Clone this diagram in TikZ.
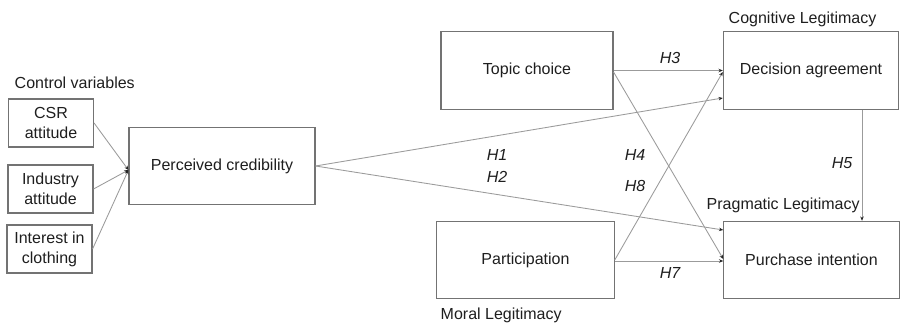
\documentclass[tikz,border=0pt]{standalone}
\usepackage{fontspec}
\setmainfont{Liberation Sans}
\usetikzlibrary{arrows.meta,calc}
\definecolor{boxline}{RGB}{115,115,115}
\definecolor{conn}{RGB}{155,155,155}
\definecolor{txt}{RGB}{30,30,30}
\begin{document}
\begin{tikzpicture}[x=0.75pt,y=-0.75pt,
  every node/.style={font=\fontsize{12}{15}\selectfont, text=txt},
  box/.style={draw=boxline, line width=0.85pt, rectangle, inner sep=0pt, align=center},
  cbox/.style={box, minimum width=63.75pt, minimum height=36pt},
  bigbox/.style={box, minimum height=58pt},
  conn/.style={draw=conn, line width=0.65pt, -{Stealth[length=3.2pt,width=2.6pt,color=black!85]}},
  hlab/.style={font=\fontsize{12}{14}\selectfont\itshape},
  leg/.style={anchor=base west}]
\useasboundingbox (0,0) rectangle (900,322);
% control variables
\node[leg] (cvl) at (10,88) {Control variables};
\node[cbox] (csr) at (51,123) {CSR\\attitude};
\node[cbox] (ind) at (50.5,189) {Industry\\attitude};
\node[cbox] (int) at (49.5,249) {Interest in\\clothing};
% main boxes
\node[bigbox, minimum width=139.5pt] (pc) at (222,166) {Perceived credibility};
\node[bigbox, minimum width=129pt] (tc) at (527,70.5) {Topic choice};
\node[bigbox, minimum width=131.5pt] (da) at (811,70.5) {Decision agreement};
\node[bigbox, minimum width=133pt] (pa) at (525.5,260) {Participation};
\node[bigbox, minimum width=131.5pt] (pi) at (811.5,260) {Purchase intention};
% legitimacy labels
\node[leg] (cog) at (724,23) {Cognitive Legitimacy};
\node[leg] (prag) at (702,209) {Pragmatic Legitimacy};
\node[leg] (mor) at (436,319) {Moral Legitimacy};
% junction
\coordinate (j) at ($(pc.west)+(0,4)$);
\draw[conn] (csr.east) -- (j);
\draw[conn] (ind.east) -- (j);
\draw[conn] (int.east) -- (j);
% paths
\draw[conn] (pc.east) -- ($(da.west)+(0,27.5)$);
\draw[conn] (pc.east) -- ($(pi.west)+(0,-30)$);
\draw[conn] (tc.east) -- (da.west);
\draw[conn] ($(tc.east)+(0,1.5)$) -- ($(pi.west)+(0,-1)$);
\draw[conn] (pa.east) -- ($(da.west)+(0,1.5)$);
\draw[conn] ($(pa.east)+(0,1)$) -- ($(pi.west)+(0,1)$);
\draw[conn] ($(da.south)+(51,0)$) -- ($(pi.north)+(50.5,0)$);
% hypothesis labels
\node[hlab] (h3) at (670,58) {H3};
\node[hlab] (h1) at (497,155) {H1};
\node[hlab] (h2) at (497,177) {H2};
\node[hlab] (h4) at (635,155) {H4};
\node[hlab] (h8) at (635,186) {H8};
\node[hlab] (h5) at (842,163) {H5};
\node[hlab] (h7) at (670,273) {H7};
\end{tikzpicture}
\end{document}
